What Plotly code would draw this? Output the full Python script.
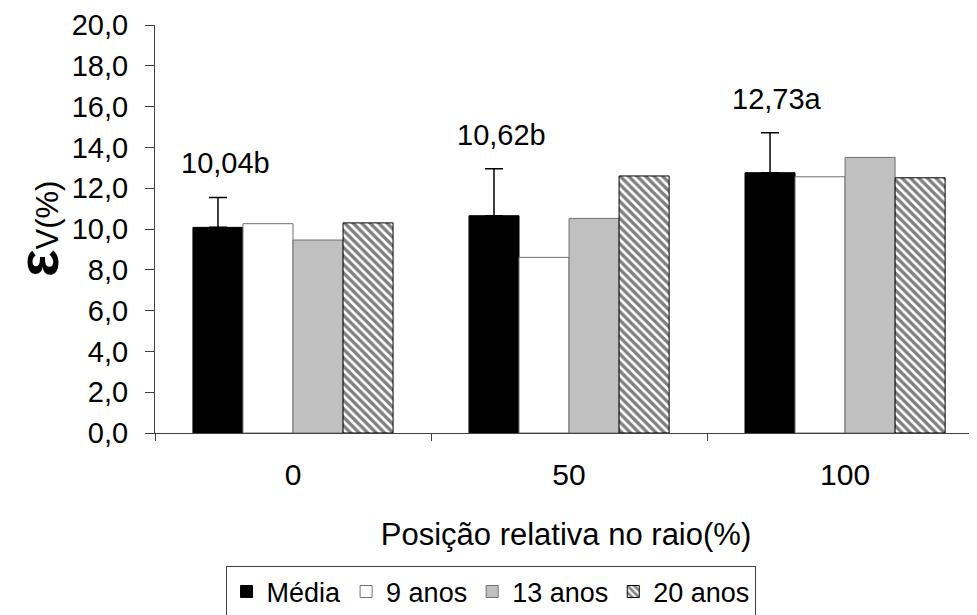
import plotly.graph_objects as go

categories = ["0", "50", "100"]
media = [10.08, 10.65, 12.76]
media_err = [1.47, 2.30, 1.96]
anos9 = [10.26, 8.61, 12.56]
anos13 = [9.46, 10.52, 13.51]
anos20 = [10.30, 12.60, 12.51]
mean_labels = ["10,04b", "10,62b", "12,73a"]
series_names = ["Média", "9 anos", "13 anos", "20 anos"]

FONT = "Liberation Sans, Arial, sans-serif"

fig = go.Figure()
fig.add_trace(go.Bar(
    x=categories, y=media, name=series_names[0],
    marker=dict(color="black", line=dict(color="black", width=1)),
    error_y=dict(type="data", array=media_err, arrayminus=[0] * len(media_err),
                 symmetric=False, color="black", thickness=1.5, width=9),
))
fig.add_trace(go.Bar(
    x=categories, y=anos9, name=series_names[1],
    marker=dict(color="white", line=dict(color="#707070", width=1)),
))
fig.add_trace(go.Bar(
    x=categories, y=anos13, name=series_names[2],
    marker=dict(color="#c0c0c0", line=dict(color="#707070", width=1)),
))
fig.add_trace(go.Bar(
    x=categories, y=anos20, name=series_names[3],
    marker=dict(color="white", line=dict(color="black", width=1),
                pattern=dict(shape="\\", fgcolor="black", bgcolor="white",
                             size=6, solidity=0.55)),
))

for i, (m, e, lab) in enumerate(zip(media, media_err, mean_labels)):
    fig.add_annotation(x=i, y=m + e, text=lab, showarrow=False,
                       xref="x", yref="y", xanchor="center", yanchor="bottom",
                       xshift=-68, yshift=16,
                       font=dict(family=FONT, size=29, color="black"))

# y-axis title as a rotated annotation so it can sit close to the page edge
fig.add_annotation(
    text="<b><span style='font-size:58px'>ε</span></b><span style='font-size:31px'>V(%)</span>",
    xref="paper", yref="paper", x=0, y=0.5, xanchor="center", yanchor="middle",
    xshift=-118, textangle=-90, showarrow=False,
    font=dict(family=FONT, size=29, color="black"))

# page body has an 8px default margin: figure is sized/offset to compensate
fig.update_layout(
    width=969, height=607,
    margin=dict(l=147, r=0, t=17, b=182, autoexpand=False),
    paper_bgcolor="white", plot_bgcolor="white",
    barmode="group", bargap=0.275, bargroupgap=0,
    separators=",.",
    font=dict(family=FONT, size=29, color="black"),
    showlegend=True,
    legend=dict(orientation="h", xref="container", yref="container",
                x=0.498, xanchor="center", y=0.08, yanchor="top",
                bordercolor="#404040", borderwidth=1, bgcolor="white",
                font=dict(family=FONT, size=27, color="black"),
                itemwidth=30, traceorder="normal"),
    xaxis=dict(
        type="category", range=[-0.5, 2.478], tickson="boundaries",
        automargin=False,
        ticks="outside", ticklen=7, tickcolor="#404040",
        ticklabelstandoff=15,
        showline=True, linecolor="#404040", linewidth=1,
        showgrid=False, zeroline=False,
        tickfont=dict(family=FONT, size=30, color="black"),
        title=dict(text="Posição relativa no raio(%)", standoff=33,
                   font=dict(family=FONT, size=31, color="black")),
    ),
    yaxis=dict(
        range=[0, 20], dtick=2, tick0=0, tickformat=".1f",
        automargin=False,
        ticks="outside", ticklen=9, tickcolor="#404040",
        ticklabelstandoff=11,
        showline=True, linecolor="#404040", linewidth=1,
        showgrid=False, zeroline=False,
        tickfont=dict(family=FONT, size=29, color="black"),
    ),
)

fig.write_html("out.html")
